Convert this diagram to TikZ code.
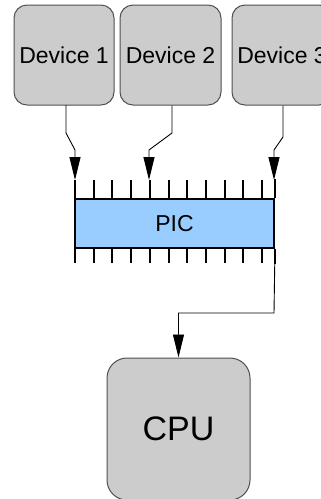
\documentclass[tikz,border=0pt]{standalone}
\usepackage{fontspec}
\setmainfont{Liberation Sans}
\usetikzlibrary{arrows.meta, positioning, calc}
\definecolor{boxgray}{HTML}{CCCCCC}
\definecolor{edgegray}{HTML}{505050}
\definecolor{picblue}{HTML}{99CCFF}

\begin{document}
\begin{tikzpicture}[
    x=1pt, y=-1pt,
    font=\fontsize{23}{27}\selectfont,
    device/.style={draw=edgegray, line width=1pt, fill=boxgray, rounded corners=13pt,
                   minimum width=100pt, minimum height=100pt, inner sep=0pt},
    chip/.style={draw=black, line width=1.5pt, fill=picblue,
                 minimum width=199pt, minimum height=49pt, inner sep=0pt},
    cpubox/.style={device, rounded corners=20pt, minimum width=143pt, minimum height=142pt,
                   font=\fontsize{34}{40}\selectfont},
    wire/.style={line width=0.9pt, -{Triangle[length=23pt, width=11pt]}},
    pin/.style={line width=2pt}
]
\useasboundingbox (0,0) rectangle (321,499);

% nodes
\node[device] (dev1) at (64,55) {Device 1};
\node[device, minimum width=101pt] (dev2) at (170.5,55) {Device 2};
\node[device] (dev3) at (282,55) {Device 3};
\node[chip] (pic) at (174.5,223.5) {PIC};
\node[cpubox] (cpu) at (178.5,429) {CPU};

% pins on both sides of the chip
\foreach \i in {0,...,10} {
  \draw[pin] (75+\i*18.7,180) -- (75+\i*18.7,199);
  \draw[pin] (75+\i*18.7,248) -- (75+\i*18.7,263);
}
\draw[pin] (pic.north east) -- ++(0,-19);
\draw[pin] (pic.south east) -- ++(0,15) coordinate (out);

% device lines into the chip
\draw[wire] (66,105) -- (66,133) -- (75,150) -- (75,180);
\draw[wire] (dev2.south -| 172,0) -- (172,133) -- (149,150) -- (149,180);
\draw[wire] (dev3.south -| 283,0) -- (283,137) -- (274,150) -- (274,180);

% interrupt line to the cpu
\draw[wire] (out) -- (274,313) -| (cpu.north);

\end{tikzpicture}
\end{document}
